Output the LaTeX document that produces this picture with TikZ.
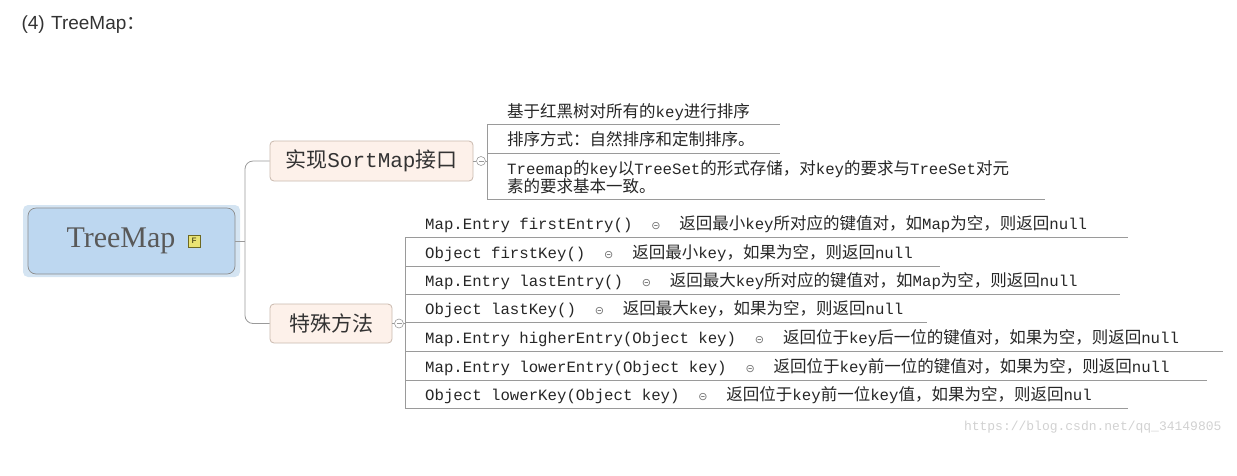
\documentclass[tikz,border=0pt]{standalone}
\usepackage{fontspec}
\setmainfont{Liberation Mono}
\newfontfamily\cjkf{Noto Sans CJK SC}
\newcommand{\cjk}{\cjkf\fontsize{16.5}{16.5}\selectfont}
\newfontfamily\symf{DejaVu Sans}
\newfontfamily\ssf{Liberation Sans}
\newfontfamily\serf{Liberation Serif}
\definecolor{rootfill}{HTML}{BDD7F0}
\definecolor{rootout}{HTML}{D4E4F2}
\definecolor{brfill}{HTML}{FDF1EA}
\definecolor{brline}{HTML}{C9B9AE}
\definecolor{ln}{HTML}{9A9A9A}
\begin{document}
\begin{tikzpicture}[x=1pt,y=-1pt,
  item/.style={anchor=base west,inner sep=0pt,font=\fontsize{15.7}{15.7}\selectfont,text=black!85},
  rule/.style={draw=ln,line width=0.8pt},
  foldmark/.style={draw=ln,circle,minimum size=9pt,inner sep=0pt,line width=0.6pt},
  br/.style={draw=brline,fill=brfill,rounded corners=4pt,line width=0.8pt,inner sep=0pt,font=\cjkf\fontsize{21}{21}\selectfont,text=black!80}]
\useasboundingbox (0,0) rectangle (1237,475);
\node[anchor=west,font=\ssf\fontsize{19}{19}\selectfont,text=black!80] (title) at (18,25) {(4)\,\,TreeMap{\cjkf\fontsize{19}{19}\selectfont ：}};
% root
\node[fill=rootout,rounded corners=5pt,minimum width=217pt,minimum height=72pt] (rootbg) at (131.5,241) {};
\node[draw=black!45,fill=rootfill,rounded corners=8pt,minimum width=207pt,minimum height=66pt,line width=0.7pt] (root) at (131.5,241) {};
\node[font=\serf\fontsize{30}{30}\selectfont,text=black!65] (rt) at (121,241) {TreeMap};
\node[draw=olive!70!black,fill=yellow!60!olive!50,minimum size=12pt,inner sep=0pt,font=\ssf\bfseries\fontsize{8}{8}\selectfont,text=olive!60!black] (ficon) at (194,241) {F};
% branches
\node[br,minimum width=203pt,minimum height=40pt] (b1) at (371.5,161) {实现{\rmfamily SortMap}接口};
\node[br,minimum width=122pt,minimum height=39pt] (b2) at (331,323.5) {特殊方法};
\coordinate (j) at (245,241);
\draw[ln,line width=0.8pt] (root.east) -- (j);
\draw[ln,line width=0.8pt,rounded corners=8pt] (b1.west) -| (j) |- (b2.west);
\node[foldmark] (m1) at (481,161) {};
\draw[ln,line width=0.6pt] (m1.center)+(-2.5,0) -- +(2.5,0);
\node[foldmark] (m2) at (399,323.5) {};
\draw[ln,line width=0.6pt] (m2.center)+(-2.5,0) -- +(2.5,0);
\draw[ln,line width=0.8pt] (b1.east) -- (m1);
\draw[ln,line width=0.8pt] (b2.east) -- (m2);
\coordinate (v1) at (487,161);
\coordinate (v2) at (405,323.5);
\draw[ln,line width=0.8pt] (m1) -- (v1);
\draw[ln,line width=0.8pt] (m2) -- (v2);
% branch 1 children
\draw[rule] (487,124) -- (487,199);
\node[item] (c1) at (507,117) {{\cjk 基于红黑树对所有的}key{\cjk 进行排序}};
\draw[rule] (487,124) -- (780,124);
\node[item] (c2) at (507,145) {{\cjk 排序方式：自然排序和定制排序。}};
\draw[rule] (487,153) -- (780,153);
\node[item] (c3) at (507,174) {Treemap{\cjk 的}key{\cjk 以}TreeSet{\cjk 的形式存储，对}key{\cjk 的要求与}TreeSet{\cjk 对元}};
\node[item] (c3b) at (507,192) {{\cjk 素的要求基本一致。}};
\draw[rule] (487,199) -- (1045,199);
% branch 2 children
\draw[rule] (405,237) -- (405,408);
\newcommand{\mk}{{\symf\fontsize{11}{11}\selectfont\color{black!55}⊝}}
\foreach \y/\t/\e in {
 229/{Map.Entry firstEntry()\ \ \mk\ \ {\cjk 返回最小}key{\cjk 所对应的键值对，如}Map{\cjk 为空，则返回}null}/1128,
 258/{Object firstKey()\ \ \mk\ \ {\cjk 返回最小}key{\cjk ，如果为空，则返回}null}/940,
 286/{Map.Entry lastEntry()\ \ \mk\ \ {\cjk 返回最大}key{\cjk 所对应的键值对，如}Map{\cjk 为空，则返回}null}/1120,
 314/{Object lastKey()\ \ \mk\ \ {\cjk 返回最大}key{\cjk ，如果为空，则返回}null}/927,
 343/{Map.Entry higherEntry(Object key)\ \ \mk\ \ {\cjk 返回位于}key{\cjk 后一位的键值对，如果为空，则返回}null}/1223,
 372/{Map.Entry lowerEntry(Object key)\ \ \mk\ \ {\cjk 返回位于}key{\cjk 前一位的键值对，如果为空，则返回}null}/1207,
 400/{Object lowerKey(Object key)\ \ \mk\ \ {\cjk 返回位于}key{\cjk 前一位}key{\cjk 值，如果为空，则返回}nul}/1128}{
 \node[item] at (425,\y) {\t};
 \draw[rule] (405,\y+8) -- (\e,\y+8);
}
\node[anchor=base east,font=\fontsize{13}{13}\selectfont,text=black!18] (wm) at (1225,430) {https://blog.csdn.net/qq\_34149805};
\end{tikzpicture}
\end{document}
